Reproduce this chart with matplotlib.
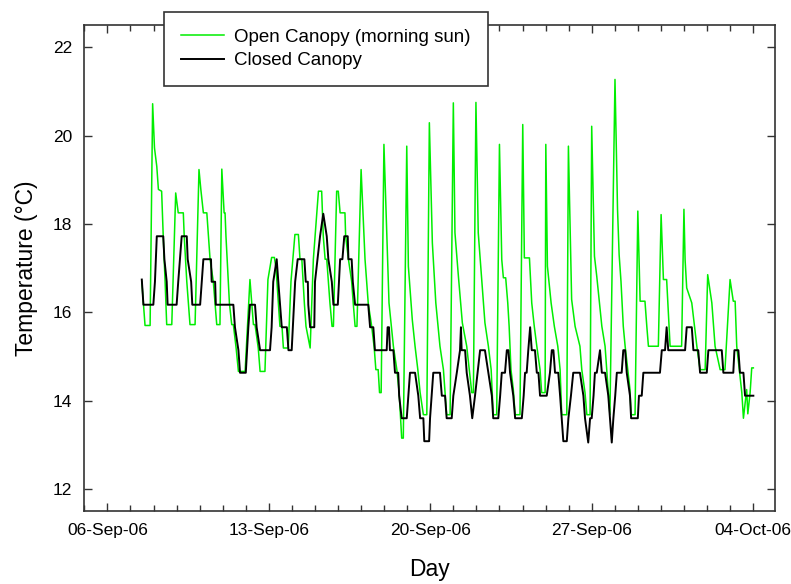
import datetime
import matplotlib
matplotlib.use("Agg")
import matplotlib.pyplot as plt
import matplotlib.dates as mdates

plt.rcParams['font.family'] = ['Liberation Sans', 'DejaVu Sans']

# time is given as day of September 2006 (fractional), 31.0 = 1 Oct
open_t = [7.49, 7.63, 7.85, 7.96, 8.04, 8.14, 8.21, 8.35, 8.42, 8.50, 8.57, 8.79,
          8.96, 9.07, 9.29, 9.33, 9.44, 9.58, 9.80, 9.97, 10.05, 10.16, 10.31, 10.38,
          10.45, 10.59, 10.74, 10.88, 10.96, 11.06, 11.10, 11.14, 11.24, 11.29, 11.39,
          11.46, 11.58, 11.68, 11.97, 12.18, 12.26, 12.33, 12.40, 12.54, 12.62, 12.83,
          12.96, 13.12, 13.24, 13.31, 13.48, 13.57, 13.63, 13.84, 13.96, 14.13, 14.28,
          14.35, 14.43, 14.54, 14.61, 14.79, 14.93, 15.15, 15.29, 15.36, 15.44, 15.51,
          15.58, 15.65, 15.74, 15.80, 15.94, 16.01, 16.09, 16.30, 16.33, 16.45, 16.59,
          16.66, 16.74, 16.82, 17.00, 17.17, 17.31, 17.46, 17.57, 17.64, 17.74, 17.80,
          17.87, 17.99, 18.11, 18.21, 18.40, 18.55, 18.65, 18.76, 18.83, 18.98, 19.05,
          19.22, 19.34, 19.46, 19.56, 19.70, 19.85, 19.96, 20.09, 20.24, 20.42, 20.57,
          20.71, 20.86, 21.00, 21.07, 21.22, 21.39, 21.58, 21.69, 21.80, 21.87, 21.98,
          22.08, 22.23, 22.37, 22.52, 22.64, 22.73, 22.88, 23.00, 23.10, 23.17, 23.27,
          23.36, 23.42, 23.50, 23.60, 23.68, 23.89, 24.01, 24.08, 24.30, 24.40, 24.51,
          24.62, 24.76, 24.83, 24.98, 25.01, 25.08, 25.24, 25.38, 25.53, 25.63, 25.70,
          25.92, 25.99, 26.13, 26.28, 26.49, 26.57, 26.71, 26.79, 26.93, 27.00, 27.12,
          27.22, 27.44, 27.58, 27.72, 27.79, 28.01, 28.12, 28.19, 28.27, 28.37, 28.45,
          28.66, 28.71, 28.88, 29.00, 29.10, 29.31, 29.39, 29.46, 29.89, 30.01, 30.11,
          30.25, 30.40, 30.90, 31.00, 31.05, 31.12, 31.34, 31.56, 31.70, 31.92, 32.03,
          32.21, 32.35, 32.57, 32.78, 33.00, 33.14, 33.22, 33.29, 33.51, 33.58, 33.72,
          33.77, 33.87, 33.94, 34.01]
open_temp = [16.7, 15.7, 15.7, 20.72, 19.72, 19.3, 18.78, 18.74, 17.72, 16.7, 15.72, 15.72,
             18.7, 18.25, 18.25, 17.72, 16.7, 15.72, 15.72, 19.23, 18.78, 18.25, 18.25, 17.72,
             17.2, 16.7, 15.72, 15.72, 19.24, 18.25, 18.25, 17.72, 16.7, 16.2, 15.72,
             15.72, 15.19, 14.66, 14.66, 16.74, 16.2, 15.72, 15.72, 15.19, 14.66, 14.66,
             16.74, 17.24, 17.24, 17.0, 15.68, 15.68, 15.19, 15.19, 16.7, 17.76, 17.76,
             17.2, 17.2, 16.2, 15.68, 15.19, 17.2, 18.74, 18.74, 17.72, 17.2, 17.2,
             16.7, 16.2, 15.68, 15.68, 18.74, 18.74, 18.25, 18.25, 17.72, 17.2, 16.7,
             16.2, 15.68, 15.68, 19.23, 17.2, 16.2, 15.68, 15.19, 14.7, 14.7, 14.18,
             14.18, 19.8, 17.8, 16.21, 15.23, 14.7, 14.18, 13.15, 13.15, 19.76, 17.04,
             15.83, 15.23, 14.7, 14.18, 13.68, 13.68, 20.29, 17.57, 16.21, 15.23, 14.7,
             13.68, 13.68, 20.74, 17.8, 16.81, 15.76, 15.23, 14.7, 14.18, 14.18, 20.75,
             17.8, 16.74, 15.76, 15.23, 14.7, 13.68, 13.68, 19.8, 17.19, 16.78, 16.78,
             16.21, 15.68, 14.7, 14.25, 13.68, 13.68, 20.25, 17.23, 17.23, 16.21, 15.68,
             15.23, 14.7, 14.18, 14.18, 19.8, 17.04, 16.21, 15.68, 15.23, 14.7, 13.68,
             13.68, 19.76, 16.29, 15.68, 15.23, 14.7, 14.18, 13.68, 13.68, 20.21, 17.27,
             16.81, 15.68, 15.23, 14.18, 13.68, 21.27, 18.33, 17.3, 16.7, 15.68, 15.23,
             14.25, 13.68, 13.68, 18.29, 16.25, 16.25, 15.68, 15.23, 15.23, 18.21, 16.74,
             16.74, 15.23, 15.23, 18.33, 17.19, 16.55, 16.21, 15.23, 14.7, 14.7, 16.85,
             16.21, 15.23, 14.7, 14.7, 16.74, 16.25, 16.25, 15.23, 14.18, 13.6, 14.25,
             13.7, 14.18, 14.74, 14.74]

closed_t = [7.49, 7.56, 7.99, 8.06, 8.14, 8.42, 8.47, 8.57, 8.61, 9.00, 9.07, 9.22,
            9.44, 9.48, 9.63, 9.68, 10.02, 10.09, 10.16, 10.49, 10.52, 10.67, 10.70, 11.46,
            11.53, 11.68, 11.75, 12.00, 12.11, 12.18, 12.40, 12.47, 12.62, 13.05, 13.12,
            13.19, 13.34, 13.41, 13.56, 13.78, 13.85, 13.99, 14.14, 14.25, 14.54, 14.60,
            14.69, 14.71, 14.79, 14.97, 15.00, 15.22, 15.36, 15.51, 15.58, 15.73, 15.80,
            15.99, 16.09, 16.19, 16.27, 16.42, 16.45, 16.59, 16.64, 16.74, 17.31, 17.39,
            17.53, 17.60, 18.11, 18.15, 18.21, 18.25, 18.40, 18.47, 18.61, 18.65, 18.76,
            18.98, 19.05, 19.12, 19.34, 19.48, 19.56, 19.70, 19.74, 19.95, 19.99, 20.06,
            20.13, 20.42, 20.50, 20.64, 20.71, 20.93, 21.00, 21.15, 21.29, 21.33, 21.36,
            21.51, 21.58, 21.72, 21.82, 21.94, 22.05, 22.16, 22.37, 22.52, 22.67, 22.73,
            22.95, 23.03, 23.10, 23.24, 23.32, 23.39, 23.46, 23.60, 23.68, 23.97, 24.05,
            24.11, 24.18, 24.25, 24.33, 24.40, 24.54, 24.62, 24.69, 24.76, 25.05, 25.19,
            25.27, 25.34, 25.41, 25.55, 25.63, 25.70, 25.77, 25.92, 25.99, 26.10, 26.20,
            26.49, 26.64, 26.71, 26.85, 26.93, 27.00, 27.08, 27.14, 27.22, 27.36, 27.44,
            27.58, 27.72, 27.87, 27.94, 28.02, 28.09, 28.30, 28.37, 28.45, 28.52, 28.66,
            28.71, 29.00, 29.05, 29.17, 29.24, 29.96, 30.04, 30.18, 30.25, 30.32, 31.05,
            31.12, 31.34, 31.41, 31.62, 31.70, 31.99, 32.06, 32.64, 32.71, 33.14, 33.19,
            33.36, 33.43, 33.58, 33.65, 34.01]
closed_temp = [16.74, 16.17, 16.17, 16.69, 17.72, 17.72, 17.2, 16.69, 16.17, 16.17, 16.69, 17.72,
               17.72, 17.2, 16.69, 16.17, 16.17, 16.69, 17.2, 17.2, 16.69, 16.69, 16.17, 16.17,
               15.66, 15.14, 14.63, 14.63, 15.66, 16.17, 16.17, 15.66, 15.14, 15.14, 15.66,
               16.69, 17.2, 16.69, 15.66, 15.66, 15.14, 15.14, 16.69, 17.2, 17.2, 16.69,
               16.69, 16.17, 15.66, 15.66, 16.69, 17.72, 18.23, 17.72, 17.2, 16.69, 16.17,
               16.17, 17.2, 17.2, 17.72, 17.72, 17.2, 17.2, 16.69, 16.17, 16.17, 15.66,
               15.66, 15.14, 15.14, 15.66, 15.66, 15.14, 15.14, 14.63, 14.63, 14.11, 13.6,
               13.6, 14.11, 14.63, 14.63, 14.11, 13.6, 13.6, 13.08, 13.08, 13.6, 14.11,
               14.63, 14.63, 14.11, 14.11, 13.6, 13.6, 14.11, 14.63, 15.14, 15.66, 15.14,
               15.14, 14.63, 14.11, 13.6, 14.11, 14.63, 15.14, 15.14, 14.63, 14.11, 13.6,
               13.6, 14.11, 14.63, 14.63, 15.14, 15.14, 14.63, 14.11, 13.6, 13.6, 14.11,
               14.63, 14.63, 15.14, 15.66, 15.14, 15.14, 14.63, 14.63, 14.11, 14.11, 14.63,
               15.14, 15.14, 14.63, 14.63, 14.11, 13.6, 13.08, 13.08, 13.6, 14.11, 14.63,
               14.63, 14.11, 13.6, 13.05, 13.6, 13.6, 14.11, 14.63, 14.63, 15.14, 14.63,
               14.63, 14.11, 13.05, 13.6, 14.11, 14.63, 14.63, 15.14, 15.14, 14.63, 14.11,
               13.6, 13.6, 14.11, 14.11, 14.63, 14.63, 15.14, 15.14, 15.66, 15.14, 15.14,
               15.66, 15.66, 15.14, 15.14, 14.63, 14.63, 15.14, 15.14, 14.63, 14.63, 15.14,
               15.14, 14.63, 14.63, 14.11, 14.11]

labels = ["Open Canopy (morning sun)", "Closed Canopy"]
colors = ["#00ee00", "black"]

base = mdates.date2num(datetime.datetime(2006, 8, 31))
open_x = [base + t for t in open_t]
closed_x = [base + t for t in closed_t]

fig = plt.figure(figsize=(7.91, 5.84), dpi=100)
ax = fig.add_axes([0.1058, 0.125, 0.874, 0.832])

l1, = ax.plot(open_x, open_temp, color=colors[0], lw=1.1)
l2, = ax.plot(closed_x, closed_temp, color=colors[1], lw=1.4)

ax.set_xlim(base + 4.97, base + 34.95)
ax.set_ylim(11.5, 22.5)
ax.set_yticks([12, 14, 16, 18, 20, 22])
ax.xaxis.set_major_locator(mdates.DayLocator(bymonthday=[6, 13, 20, 27, 4]))
ax.xaxis.set_minor_locator(mdates.DayLocator())
ax.xaxis.set_major_formatter(mdates.DateFormatter('%d-%b-%y'))

ax.tick_params(which='both', direction='in', top=True, right=True,
               colors='#333333', labelcolor='black', labelsize=12.5)
ax.tick_params(which='major', length=6, width=1, pad=8.5)
ax.tick_params(which='minor', length=4, width=1)
for s in ax.spines.values():
    s.set_color('#333333')
    s.set_linewidth(1.2)

ax.set_xlabel("Day", fontsize=16.5)
ax.set_ylabel("Temperature (°C)", fontsize=16.5)
ax.xaxis.set_label_coords(0.5, -0.097)
ax.yaxis.set_label_coords(-0.066, 0.5)

leg = fig.legend([l1, l2], labels, loc='upper left',
                 bbox_to_anchor=(164 / 791, 572 / 584), fontsize=13.5,
                 frameon=True, fancybox=False, edgecolor='#333333', framealpha=1,
                 borderaxespad=0, handlelength=2.3, handletextpad=0.55,
                 labelspacing=0.33, borderpad=0.9)
leg.get_frame().set_linewidth(1.2)

fig.savefig("out.png", dpi=100)
